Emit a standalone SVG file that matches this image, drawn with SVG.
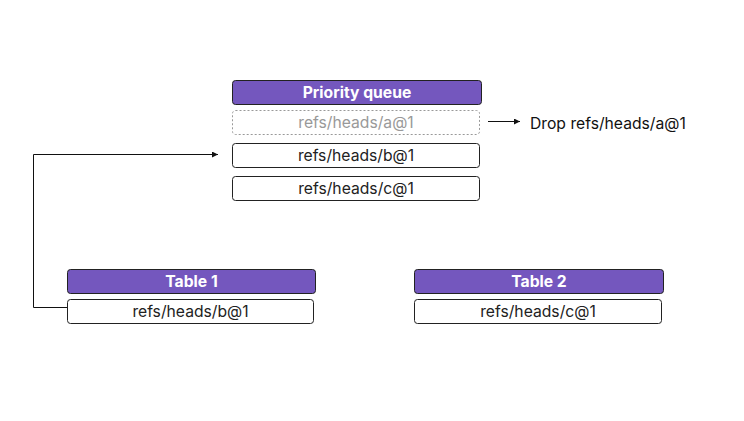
<svg xmlns="http://www.w3.org/2000/svg" width="744" height="421" viewBox="0 0 744 421">
<defs>
<marker id="ah" viewBox="0 0 10 10" refX="10" refY="5" markerWidth="6" markerHeight="6" orient="auto" markerUnits="userSpaceOnUse"><path d="M0,0 L10,5 L0,10 z" fill="#111"/></marker>
<style>
.hdr{fill:#7457BE;stroke:#222;stroke-width:1}
.row{fill:#fff;stroke:#222;stroke-width:1}
.dash{fill:#fff;stroke:#999;stroke-width:1;stroke-dasharray:2 2}
.ht{font-family:Inter,"Liberation Sans",sans-serif;font-size:15.7px;font-weight:700;fill:#fff;text-anchor:middle}
.rt{font-family:Inter,"Liberation Sans",sans-serif;font-size:15.7px;fill:#222;text-anchor:middle}
.gt{font-family:Inter,"Liberation Sans",sans-serif;font-size:15.7px;fill:#999;text-anchor:middle}
.lt{font-family:Inter,"Liberation Sans",sans-serif;font-size:15.7px;fill:#111}
.ln{fill:none;stroke:#111;stroke-width:1}
</style>
</defs>
<rect width="744" height="421" fill="#fff"/>
<g id="connectors">
<path class="ln" d="M67,307.5 H33.5 V154.5 H218" marker-end="url(#ah)"/>
<path class="ln" d="M488,121.5 H520" marker-end="url(#ah)"/>
</g>
<g id="pq-header"><rect class="hdr" x="232.5" y="80.5" width="249" height="24" rx="3"/><text class="ht" x="357" y="98.2">Priority queue</text></g>
<g id="pq-a"><rect class="dash" x="232.5" y="110.5" width="247" height="24" rx="3"/><text class="gt" x="356" y="128.2">refs/heads/a@1</text></g>
<g id="pq-b"><rect class="row" x="232.5" y="143.5" width="247" height="24" rx="3"/><text class="rt" x="356" y="161.2">refs/heads/b@1</text></g>
<g id="pq-c"><rect class="row" x="232.5" y="176.5" width="247" height="24" rx="3"/><text class="rt" x="356" y="194.2">refs/heads/c@1</text></g>
<g id="drop"><text class="lt" x="530" y="128.5">Drop refs/heads/a@1</text></g>
<g id="t1-header"><rect class="hdr" x="67.5" y="269.5" width="248" height="24" rx="3"/><text class="ht" x="191.5" y="287.2">Table 1</text></g>
<g id="t1-b"><rect class="row" x="67.5" y="299.5" width="246" height="24" rx="3"/><text class="rt" x="190.5" y="317.2">refs/heads/b@1</text></g>
<g id="t2-header"><rect class="hdr" x="414.5" y="269.5" width="249" height="24" rx="3"/><text class="ht" x="539" y="287.2">Table 2</text></g>
<g id="t2-c"><rect class="row" x="414.5" y="299.5" width="247" height="24" rx="3"/><text class="rt" x="538" y="317.2">refs/heads/c@1</text></g>
</svg>
